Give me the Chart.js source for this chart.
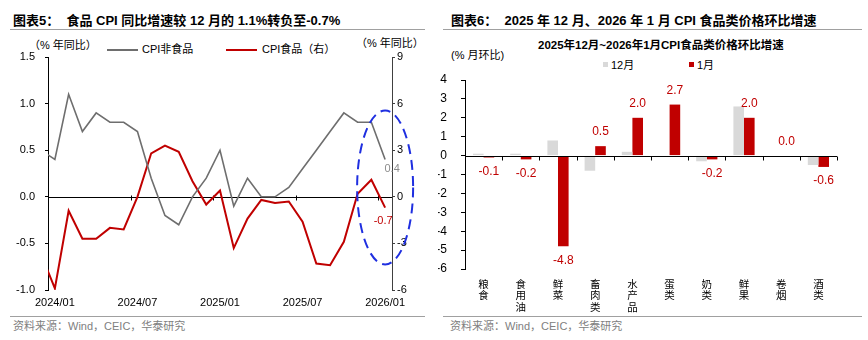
<!DOCTYPE html>
<html>
<head>
<meta charset="utf-8">
<script src="https://cdn.jsdelivr.net/npm/chart.js@4.4.0/dist/chart.umd.min.js"></script>
<style>
  body { margin: 0; background: #fff; }
  #wrap { position: relative; width: 868px; height: 340px; overflow: hidden; font-family: "Liberation Sans", "Noto Sans CJK SC", sans-serif; }
  .t { position: absolute; white-space: nowrap; line-height: 16px; color: #000; }
  .title { font-size: 13px; font-weight: bold; }
  .rule { position: absolute; height: 0; border-top: 1px solid #a0a0a0; }
  .src { font-size: 11px; color: #808080; }
  .small { font-size: 11px; }
  .swatch { position: absolute; }
  canvas { position: absolute; }
</style>
</head>
<body>
<div id="wrap">
  <!-- left panel -->
  <div class="t title" style="left:13px; top:13px;">图表5：&nbsp; 食品 CPI 同比增速较 12 月的 1.1%转负至-0.7%</div>
  <div class="rule" style="left:10px; top:29px; width:415px;"></div>
  <div class="t small" style="left:29px; top:37px;">（% 年同比）</div>
  <div class="swatch" style="left:107px; top:49px; width:31px; height:2px; background:#6e6e6e;"></div>
  <div class="t small" style="left:142px; top:41px;">CPI非食品</div>
  <div class="swatch" style="left:226px; top:49px; width:31px; height:2px; background:#c00000;"></div>
  <div class="t small" style="left:262px; top:41px;">CPI食品（右）</div>
  <div class="t small" style="left:356px; top:35px;">（% 年同比）</div>
  <canvas id="foodChart" width="434" height="316" style="left:0; top:0; width:434px; height:316px;"></canvas>
  <div class="rule" style="left:10px; top:316px; width:415px;"></div>
  <div class="t src" style="left:13px; top:318px;">资料来源：Wind，CEIC，华泰研究</div>

  <!-- right panel -->
  <div class="t title" style="left:451px; top:13px;">图表6：&nbsp; 2025 年 12 月、2026 年 1 月 CPI 食品类价格环比增速</div>
  <div class="rule" style="left:443px; top:29px; width:419px;"></div>
  <div class="t" style="left:538px; top:37px; font-size:11.5px; font-weight:bold;">2025年12月~2026年1月CPI食品类价格环比增速</div>
  <div class="t small" style="left:451px; top:47px;">(% 月环比)</div>
  <div class="swatch" style="left:603px; top:62px; width:5px; height:5px; background:#d9d9d9;"></div>
  <div class="t small" style="left:611px; top:57px;">12月</div>
  <div class="swatch" style="left:689px; top:62px; width:5px; height:5px; background:#c00000;"></div>
  <div class="t small" style="left:697px; top:57px;">1月</div>
  <canvas id="momChart" width="430" height="316" style="left:438px; top:0; width:430px; height:316px;"></canvas>
  <div class="rule" style="left:443px; top:316px; width:419px;"></div>
  <div class="t src" style="left:450px; top:318px;">资料来源：Wind，CEIC，华泰研究</div>
</div>

<script>
// ---- left chart data (yoy, %) ----
const months = [
  '2023/12', '2024/01', '2024/02', '2024/03', '2024/04', '2024/05', '2024/06',
  '2024/07', '2024/08', '2024/09', '2024/10', '2024/11', '2024/12',
  '2025/01', '2025/02', '2025/03', '2025/04', '2025/05', '2025/06',
  '2025/07', '2025/08', '2025/09', '2025/10', '2025/11', '2025/12', '2026/01'
];
const xTickLabels = ['2024/01', '2024/07', '2025/01', '2025/07', '2026/01'];
const nonFood = [0.5, 0.4, 1.1, 0.7, 0.9, 0.8, 0.8, 0.7, 0.2, -0.2, -0.3, 0.0, 0.2,
  0.5, -0.1, 0.2, 0.0, 0.0, 0.1, 0.3, 0.5, 0.7, 0.9, 0.8, 0.8, 0.4];
const food = [-3.7, -5.9, -0.9, -2.7, -2.7, -2.0, -2.1, 0.0, 2.8, 3.3, 2.9, 1.0, -0.5,
  0.4, -3.3, -1.4, -0.2, -0.4, -0.3, -1.6, -4.3, -4.4, -2.9, 0.2, 1.1, -0.7];

// ---- right chart data (mom, %) ----
const categories = ['粮食', '食用油', '鲜菜', '畜肉类', '水产品', '蛋类', '奶类', '鲜果', '卷烟', '酒类'];
const dec2025 = [0.1, 0.1, 0.8, -0.8, 0.2, 0.0, -0.3, 2.6, 0.0, -0.5];
const jan2026 = [-0.1, -0.2, -4.8, 0.5, 2.0, 2.7, -0.2, 2.0, 0.0, -0.6];

const RED = '#c00000';
const GREY_LINE = '#6e6e6e';
const GREY_BAR = '#d9d9d9';
const NUM_FONT = 'Liberation Sans';

Chart.defaults.font.family = '"Liberation Sans", "Noto Sans CJK SC", sans-serif';
Chart.defaults.color = '#000';

// zero line with small ticks, drawn under the lines
const foodZeroLine = {
  id: 'foodZeroLine',
  beforeDatasetsDraw(chart) {
    const { ctx, chartArea, scales } = chart;
    const y = Math.round(scales.yL.getPixelForValue(0)) + 0.5;
    ctx.save();
    ctx.strokeStyle = '#000';
    ctx.lineWidth = 1;
    ctx.beginPath();
    ctx.moveTo(chartArea.left, y);
    ctx.lineTo(chartArea.right, y);
    xTickLabels.forEach(lbl => {
      const i = months.indexOf(lbl);
      const half = (scales.x.getPixelForValue(i + 1) - scales.x.getPixelForValue(i)) / 2;
      const x = Math.round(scales.x.getPixelForValue(i) - half) + 0.5;
      ctx.moveTo(x, y - 2);
      ctx.lineTo(x, y + 3);
    });
    ctx.stroke();
    ctx.restore();
  },
  afterDatasetsDraw(chart) {
    const { ctx, scales } = chart;
    const last = months.length - 1;
    const g = chart.getDatasetMeta(0).data[last];
    const r = chart.getDatasetMeta(1).data[last];
    ctx.save();
    ctx.font = '11px ' + NUM_FONT;
    ctx.textAlign = 'center';
    ctx.textBaseline = 'middle';
    ctx.fillStyle = '#8c8c8c';
    ctx.fillText(nonFood[last].toFixed(1), g.x + 7, g.y + 9);
    ctx.fillStyle = RED;
    ctx.fillText(food[last].toFixed(1), r.x - 2, r.y + 13);
    // dashed blue highlight around the latest readings
    const cx = scales.x.getPixelForValue(last);
    const cy = scales.yR.getPixelForValue(0.6);
    ctx.strokeStyle = '#1f2fe0';
    ctx.lineWidth = 2;
    ctx.setLineDash([10, 6]);
    ctx.beginPath();
    ctx.ellipse(cx, cy, 28, 77, 0, 0, Math.PI * 2);
    ctx.stroke();
    ctx.restore();
  }
};

new Chart(document.getElementById('foodChart'), {
  type: 'line',
  data: {
    labels: months,
    datasets: [
      { label: 'CPI非食品', data: nonFood, yAxisID: 'yL', borderColor: GREY_LINE, borderWidth: 1.6, pointRadius: 0, tension: 0 },
      { label: 'CPI食品（右）', data: food, yAxisID: 'yR', borderColor: RED, borderWidth: 2, pointRadius: 0, tension: 0 }
    ]
  },
  options: {
    responsive: false,
    animation: false,
    layout: { padding: { top: 57, left: 0, right: 0, bottom: 0 } },
    plugins: { legend: { display: false }, tooltip: { enabled: false } },
    scales: {
      x: {
        type: 'category',
        min: '2024/01',
        max: '2026/01',
        offset: true,
        grid: { display: false, drawTicks: false },
        border: { display: false },
        ticks: {
          autoSkip: false,
          maxRotation: 0,
          padding: 6,
          font: { size: 11 },
          callback(v) {
            const lbl = this.getLabelForValue(v);
            return xTickLabels.includes(lbl) ? lbl : '';
          }
        },
        afterFit: s => { s.height = 26; }
      },
      yL: {
        position: 'left',
        min: -1, max: 1.5,
        ticks: { stepSize: 0.5, padding: 10, font: { size: 11 }, callback: v => v.toFixed(1) },
        grid: { drawOnChartArea: false, drawTicks: true, tickLength: 3, color: '#000' },
        border: { display: true, color: '#000' },
        afterFit: s => { s.width = 48; }
      },
      yR: {
        position: 'right',
        min: -6, max: 9,
        ticks: { stepSize: 3, padding: 2, font: { size: 11 } },
        grid: { drawOnChartArea: false, drawTicks: true, tickLength: 3, color: '#404040' },
        border: { display: true, color: '#404040' },
        afterFit: s => { s.width = 42; }
      }
    }
  },
  plugins: [foodZeroLine]
});

// zero line + value labels for the bar chart
const momDecor = {
  id: 'momDecor',
  afterDatasetsDraw(chart) {
    const { ctx, chartArea, scales } = chart;
    const y = Math.round(scales.y.getPixelForValue(0)) + 0.5;
    const step = (chartArea.right - chartArea.left) / categories.length;
    ctx.save();
    ctx.strokeStyle = '#000';
    ctx.lineWidth = 1;
    ctx.beginPath();
    ctx.moveTo(chartArea.left, y);
    ctx.lineTo(chartArea.right, y);
    for (let i = 1; i <= categories.length; i++) {
      const x = Math.round(chartArea.left + step * i) + 0.5;
      ctx.moveTo(x, y);
      ctx.lineTo(x, y + 4);
    }
    ctx.stroke();

    ctx.font = '12px ' + NUM_FONT;
    ctx.fillStyle = RED;
    ctx.textAlign = 'center';
    ctx.textBaseline = 'middle';
    chart.getDatasetMeta(1).data.forEach((bar, i) => {
      const v = jan2026[i];
      ctx.fillText(v.toFixed(1), bar.x, v >= 0 ? bar.y - 14 : bar.y + 14);
    });
    ctx.restore();
  }
};

new Chart(document.getElementById('momChart'), {
  type: 'bar',
  data: {
    labels: categories,
    datasets: [
      { label: '12月', data: dec2025, backgroundColor: GREY_BAR, categoryPercentage: 0.57, barPercentage: 1 },
      { label: '1月', data: jan2026, backgroundColor: RED, categoryPercentage: 0.57, barPercentage: 1 }
    ]
  },
  options: {
    responsive: false,
    animation: false,
    layout: { padding: { top: 80, left: 0, right: 31, bottom: 0 } },
    plugins: { legend: { display: false }, tooltip: { enabled: false } },
    scales: {
      x: {
        grid: { display: false, drawTicks: false },
        border: { display: false },
        ticks: {
          autoSkip: false,
          maxRotation: 0,
          padding: 9,
          font: { size: 10.5, family: '"Noto Sans CJK SC", sans-serif', lineHeight: 1.1 },
          callback: (v) => categories[v].split('')
        },
        afterFit: s => { s.height = 47; }
      },
      y: {
        min: -6, max: 4,
        ticks: { stepSize: 1, padding: 14, font: { size: 12 } },
        grid: { drawOnChartArea: false, drawTicks: true, tickLength: 4, color: '#000' },
        border: { display: true, color: '#000' },
        afterFit: s => { s.width = 27; }
      }
    }
  },
  plugins: [momDecor]
});
</script>
</body>
</html>
